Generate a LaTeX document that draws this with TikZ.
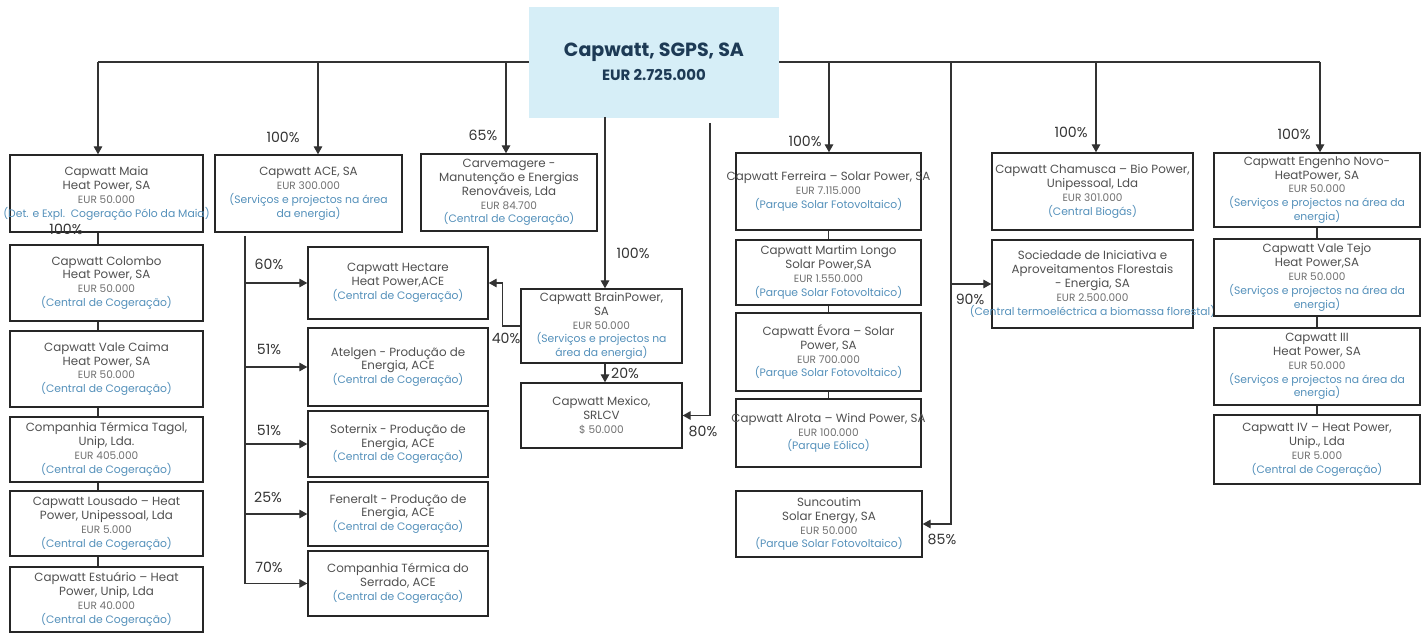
\documentclass[tikz,border=0pt]{standalone}
\usepackage{fontspec}
\setmainfont{Poppins}
\usetikzlibrary{arrows.meta,fit}
\definecolor{rootC}{HTML}{D6EEF7}
\definecolor{titleC}{HTML}{1D3A55}
\definecolor{nameC}{HTML}{505050}
\definecolor{eurC}{HTML}{707070}
\definecolor{blueC}{HTML}{5490BA}
\definecolor{lineC}{HTML}{333333}
\newcommand\eur[1]{{\fontsize{7.9}{10.4}\selectfont\color{eurC}#1}}
\newcommand\bl[1]{{\fontsize{8.1}{10.4}\selectfont\color{blueC}#1}}
\newcommand\cbx[6]{%
  \path (#2,#3) coordinate (#1-a) (#4,#5) coordinate (#1-b);
  \node[boxf, fit=(#1-a)(#1-b)] (#1) {};
  \node[txt] (#1-t) at (#1.center) {#6};}
\begin{document}
\begin{tikzpicture}[x=0.75pt,y=-0.75pt,
  boxf/.style={draw=black!85, line width=1.1pt, inner sep=0pt},
  txt/.style={align=center, inner sep=0pt, font=\fontsize{8.9}{10.4}\selectfont, text=nameC},
  conn/.style={draw=lineC, line width=0.9pt},
  arr/.style={conn, -{Triangle[width=6.5pt,length=6pt]}},
  pct/.style={inner sep=0pt, font=\fontsize{10.6}{12}\selectfont, text=lineC}]
\useasboundingbox (0,0) rectangle (1425,634);

% bus coordinates
\coordinate (b1) at (98,62);
\coordinate (b2) at (318,62);
\coordinate (b3) at (506,62);
\coordinate (b4) at (829,62);
\coordinate (b5) at (1096,62);
\coordinate (b6) at (1320,62);
\coordinate (b7) at (951,62);
\coordinate (r1) at (605,117);
\coordinate (r2) at (710,123);
\coordinate (av) at (245,236);

\draw[conn] (b1) -- (b6);

% root
\path (529,7) coordinate (root-a) (779,118) coordinate (root-b);
\node[fill=rootC, inner sep=0pt, fit=(root-a)(root-b)] (root) {};
\node[inner sep=0pt, text=titleC, font=\bfseries\fontsize{14.3}{17}\selectfont] (root-t1) at (654,52) {Capwatt, SGPS, SA};
\node[inner sep=0pt, text=titleC, font=\bfseries\fontsize{11.2}{13}\selectfont] (root-t2) at (654,75) {EUR 2.725.000};

% left column
\cbx{maia}{10}{155}{203}{232}{Capwatt Maia\\Heat Power, SA\\\eur{EUR 50.000}\\\bl{(Det. e Expl.\ \ Cogeração Pólo da Maia)}}
\cbx{colombo}{10}{245}{203}{321}{Capwatt Colombo\\Heat Power, SA\\\eur{EUR 50.000}\\\bl{(Central de Cogeração)}}
\cbx{caima}{10}{331}{203}{407}{Capwatt Vale Caima\\Heat Power, SA\\\eur{EUR 50.000}\\\bl{(Central de Cogeração)}}
\cbx{tagol}{10}{417}{203}{482}{Companhia Térmica Tagol,\\Unip, Lda.\\\eur{EUR 405.000}\\\bl{(Central de Cogeração)}}
\cbx{lousado}{10}{491}{203}{556}{Capwatt Lousado – Heat\\Power, Unipessoal, Lda\\\eur{EUR 5.000}\\\bl{(Central de Cogeração)}}
\cbx{estuario}{10}{567}{203}{632}{Capwatt Estuário – Heat\\Power, Unip, Lda\\\eur{EUR 40.000}\\\bl{(Central de Cogeração)}}

% ACE column
\cbx{ace}{215}{155}{402}{232}{Capwatt ACE, SA\\\eur{EUR 300.000}\\\bl{(Serviços e projectos na área}\\\bl{da energia)}}
\cbx{hectare}{308}{247}{488}{319}{Capwatt Hectare\\Heat Power,ACE\\\bl{(Central de Cogeração)}}
\cbx{atelgen}{308}{328}{488}{406}{Atelgen - Produção de\\Energia, ACE\\\bl{(Central de Cogeração)}}
\cbx{soternix}{308}{411}{488}{477}{Soternix - Produção de\\Energia, ACE\\\bl{(Central de Cogeração)}}
\cbx{feneralt}{308}{482}{488}{546}{Feneralt - Produção de\\Energia, ACE\\\bl{(Central de Cogeração)}}
\cbx{serrado}{308}{551}{488}{616}{Companhia Térmica do\\Serrado, ACE\\\bl{(Central de Cogeração)}}

% middle
\cbx{carv}{421}{154}{597}{231}{Carvemagere -\\Manutenção e Energias\\Renováveis, Lda\\\eur{EUR 84.700}\\\bl{(Central de Cogeração)}}
\cbx{brain}{521}{289}{682}{363}{Capwatt BrainPower,\\SA\\\eur{EUR 50.000}\\\bl{(Serviços e projectos na}\\\bl{área da energia)}}
\cbx{mexico}{521}{383}{682}{448}{Capwatt Mexico,\\SRLCV\\\eur{\$ 50.000}}

% Ferreira column
\cbx{ferreira}{736}{153}{921}{230}{Capwatt Ferreira – Solar Power, SA\\\eur{EUR 7.115.000}\\\bl{(Parque Solar Fotovoltaico)}}
\cbx{martim}{736}{240}{921}{305}{Capwatt Martim Longo\\Solar Power,SA\\\eur{EUR 1.550.000}\\\bl{(Parque Solar Fotovoltaico)}}
\cbx{evora}{736}{313}{921}{391}{Capwatt Évora – Solar\\Power, SA\\\eur{EUR 700.000}\\\bl{(Parque Solar Fotovoltaico)}}
\cbx{alrota}{736}{399}{921}{467}{Capwatt Alrota – Wind Power, SA\\\eur{EUR 100.000}\\\bl{(Parque Eólico)}}
\cbx{suncoutim}{736}{491}{922}{557}{Suncoutim\\Solar Energy, SA\\\eur{EUR 50.000}\\\bl{(Parque Solar Fotovoltaico)}}

% Chamusca column
\cbx{chamusca}{992}{153}{1193}{230}{Capwatt Chamusca – Bio Power,\\Unipessoal, Lda\\\eur{EUR 301.000}\\\bl{(Central Biogás)}}
\cbx{sociedade}{992}{240}{1193}{328}{Sociedade de Iniciativa e\\Aproveitamentos Florestais\\- Energia, SA\\\eur{EUR 2.500.000}\\\bl{(Central termoeléctrica a biomassa florestal)}}

% right column
\cbx{engenho}{1214}{153}{1420}{227}{Capwatt Engenho Novo-\\HeatPower, SA\\\eur{EUR 50.000}\\\bl{(Serviços e projectos na área da}\\\bl{energia)}}
\cbx{valetejo}{1214}{239}{1420}{316}{Capwatt Vale Tejo\\Heat Power,SA\\\eur{EUR 50.000}\\\bl{(Serviços e projectos na área da}\\\bl{energia)}}
\cbx{cIII}{1214}{328}{1420}{405}{Capwatt III\\Heat Power, SA\\\eur{EUR 50.000}\\\bl{(Serviços e projectos na área da}\\\bl{energia)}}
\cbx{cIV}{1214}{415}{1420}{484}{Capwatt IV – Heat Power,\\Unip., Lda\\\eur{EUR 5.000}\\\bl{(Central de Cogeração)}}

% connectors from the bus
\draw[arr] (b1) -- (b1 |- maia.north);
\draw[arr] (b2) -- (b2 |- ace.north);
\draw[arr] (b3) -- (b3 |- carv.north);
\draw[arr] (b4) -- (b4 |- ferreira.north);
\draw[arr] (b5) -- (b5 |- chamusca.north);
\draw[arr] (b6) -- (b6 |- engenho.north);
\draw[arr] (b7) |- (suncoutim.east);
\draw[arr] (b7 |- sociedade.west) -- (sociedade.west);

% from root bottom
\draw[arr] (r1) -- (r1 |- brain.north);
\draw[arr] (r1 |- brain.south) -- (r1 |- mexico.north);
\draw[arr] (r2) |- (mexico.east);
\draw[arr] (brain.west) -- ++(-18,0) |- (hectare.east);

% ACE branches
\draw[arr] (av) |- (serrado.west);
\draw[arr] (av |- hectare.west) -- (hectare.west);
\draw[arr] (av |- atelgen.west) -- (atelgen.west);
\draw[arr] (av |- soternix.west) -- (soternix.west);
\draw[arr] (av |- feneralt.west) -- (feneralt.west);

% column links
\draw[conn] (b1 |- maia.south) -- (b1 |- colombo.north);
\draw[conn] (b1 |- colombo.south) -- (b1 |- caima.north);
\draw[conn] (b1 |- caima.south) -- (b1 |- tagol.north);
\draw[conn] (b1 |- tagol.south) -- (b1 |- lousado.north);
\draw[conn] (b1 |- lousado.south) -- (b1 |- estuario.north);
\draw[conn] (ferreira.south) -- (martim.north);
\draw[conn] (martim.south) -- (evora.north);
\draw[conn] (evora.south) -- (alrota.north);
\draw[conn] (engenho.south) -- (valetejo.north);
\draw[conn] (valetejo.south) -- (cIII.north);
\draw[conn] (cIII.south) -- (cIV.north);

% percentages
\node[pct] (p1) at (66,229) {100\%};
\node[pct] (p2) at (283,137) {100\%};
\node[pct] (p3) at (483,135) {65\%};
\node[pct] (p4) at (805,141) {100\%};
\node[pct] (p5) at (1071,132) {100\%};
\node[pct] (p6) at (1294,134) {100\%};
\node[pct] (p7) at (633,253) {100\%};
\node[pct] (p8) at (506,338) {40\%};
\node[pct] (p9) at (625,373) {20\%};
\node[pct] (p10) at (703,431) {80\%};
\node[pct] (p11) at (970,299) {90\%};
\node[pct] (p12) at (942,539) {85\%};
\node[pct] (p13) at (269,264) {60\%};
\node[pct] (p14) at (269,349) {51\%};
\node[pct] (p15) at (269,430) {51\%};
\node[pct] (p16) at (268,497) {25\%};
\node[pct] (p17) at (269,567) {70\%};
\end{tikzpicture}
\end{document}
